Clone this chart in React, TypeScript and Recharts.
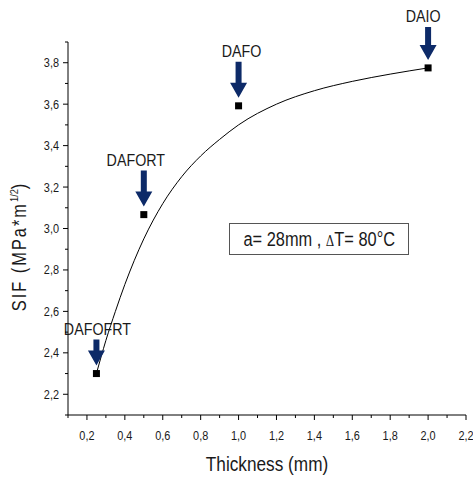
import React from 'react';
import { ComposedChart, Line, Scatter, XAxis, YAxis } from 'recharts';

// measured SIF values at each specimen thickness
const labels = ['DAFOFRT', 'DAFORT', 'DAFO', 'DAIO'];
const thickness = [0.25, 0.5, 1.0, 2.0];
const sif = [2.3, 3.067, 3.592, 3.775];

// fitted curve
const fitX = [0.25, 0.3, 0.35, 0.4, 0.5, 0.6, 0.7, 0.8, 0.9, 1.0, 1.2, 1.4, 1.6, 1.8, 2.0];
const fitY = [2.3, 2.46, 2.6, 2.73, 2.95, 3.12, 3.25, 3.35, 3.43, 3.5, 3.6, 3.665, 3.71, 3.745, 3.775];

const xTicks = [0.1, 0.2, 0.3, 0.4, 0.5, 0.6, 0.7, 0.8, 0.9, 1.0, 1.1, 1.2, 1.3, 1.4, 1.5, 1.6, 1.7, 1.8, 1.9, 2.0, 2.1, 2.2];
const yTicks = [2.1, 2.2, 2.3, 2.4, 2.5, 2.6, 2.7, 2.8, 2.9, 3.0, 3.1, 3.2, 3.3, 3.4, 3.5, 3.6, 3.7, 3.8, 3.9];

const points = thickness.map((x, i) => ({ x, y: sif[i], name: labels[i] }));
const fit = fitX.map((x, i) => ({ x, y: fitY[i] }));

const FONT = "'Liberation Sans', Arial, sans-serif";
const NAVY = '#0d2a68';
const SQUEEZE = 0.84; // the original uses a narrow face

const isMajor = (v: number) => Math.round(v * 10) % 2 === 0;
const fmt = (v: number) => v.toFixed(1).replace('.', ',');

// text drawn with a horizontal squeeze to mimic the condensed font
const NText = ({ x, y, size, anchor = 'middle', children }: any) => (
  <text
    transform={`translate(${x},${y}) scale(${SQUEEZE},1)`}
    textAnchor={anchor}
    fontSize={size}
    fontFamily={FONT}
    fill="#1a1a1a"
  >
    {children}
  </text>
);

const XTick = (props: any) => {
  const { x, y, payload } = props;
  const major = isMajor(payload.value);
  return (
    <g>
      <line x1={x} x2={x} y1={y} y2={y + (major ? 5 : 3)} stroke="#000" strokeWidth={1} />
      {major && <NText x={x} y={y + 25} size={13}>{fmt(payload.value)}</NText>}
    </g>
  );
};

const YTick = (props: any) => {
  const { x, y, payload } = props;
  const major = isMajor(payload.value);
  return (
    <g>
      <line x1={x} x2={x - (major ? 5 : 3)} y1={y} y2={y} stroke="#000" strokeWidth={1} />
      {major && (
        <NText x={x - 9} y={y + 4.5} size={13} anchor="end">
          {fmt(payload.value)}
        </NText>
      )}
    </g>
  );
};

// arrow + label offsets per marker (layout only)
const arrowLen: Record<string, number> = { DAFOFRT: 26, DAFORT: 36, DAFO: 36, DAIO: 33 };
const labelDx: Record<string, number> = { DAFOFRT: 1, DAFORT: -8, DAFO: 3, DAIO: -5 };

const Marker = (props: any) => {
  const { cx, cy, payload } = props;
  const len = arrowLen[payload.name];
  const tip = cy - 8;
  const top = tip - len;
  const headH = 15;
  return (
    <g>
      <rect x={cx - 3.5} y={cy - 3.5} width={7} height={7} fill="#000" />
      <path
        d={`M${cx - 3},${top} L${cx + 3},${top} L${cx + 3},${tip - headH} L${cx + 8.5},${tip - headH} L${cx},${tip} L${cx - 8.5},${tip - headH} L${cx - 3},${tip - headH} Z`}
        fill={NAVY}
      />
      <NText x={cx + labelDx[payload.name]} y={top - 5} size={17}>
        {payload.name}
      </NText>
    </g>
  );
};

const YTitle = (props: any) => {
  const { viewBox } = props;
  const cx = 26;
  const cy = viewBox.y + viewBox.height / 2 + 18;
  return (
    <text
      transform={`translate(${cx},${cy}) rotate(-90) scale(${SQUEEZE},1)`}
      textAnchor="middle"
      fontSize={19.5}
      fontFamily={FONT}
      letterSpacing={2.4}
      fill="#1a1a1a"
    >
      SIF (MPa*m
      <tspan dy={-8} fontSize={11} letterSpacing={0}>1/2</tspan>
      <tspan dy={8}>)</tspan>
    </text>
  );
};

const XTitle = (props: any) => {
  const { viewBox } = props;
  return (
    <NText x={viewBox.x + viewBox.width / 2} y={471} size={20.5}>
      Thickness (mm)
    </NText>
  );
};

export default function App() {
  return (
    <div style={{ position: 'absolute', left: 0, top: 0, width: 473, height: 477, background: '#fff' }}>
      <ComposedChart width={473} height={477} margin={{ top: 42, right: 7, bottom: 0, left: 0 }}>
        <XAxis
          type="number"
          dataKey="x"
          domain={[0.1, 2.2]}
          ticks={xTicks}
          interval={0}
          height={62}
          tickSize={0}
          tickMargin={0}
          tickLine={false}
          tick={<XTick />}
          axisLine={{ stroke: '#000', strokeWidth: 1 }}
          label={<XTitle />}
        />
        <YAxis
          type="number"
          dataKey="y"
          domain={[2.1, 3.9]}
          ticks={yTicks}
          interval={0}
          width={68}
          tickSize={0}
          tickMargin={0}
          tickLine={false}
          tick={<YTick />}
          axisLine={{ stroke: '#000', strokeWidth: 1 }}
          label={<YTitle />}
        />
        <Line
          data={fit}
          dataKey="y"
          type="monotone"
          stroke="#000"
          strokeWidth={1}
          dot={false}
          activeDot={false}
          isAnimationActive={false}
        />
        <Scatter data={points} dataKey="y" shape={<Marker />} isAnimationActive={false} />
      </ComposedChart>
      <div
        style={{
          position: 'absolute',
          left: 229,
          top: 223,
          width: 180,
          height: 32,
          boxSizing: 'border-box',
          border: '1.5px solid #555',
          display: 'flex',
          alignItems: 'center',
          justifyContent: 'center',
          fontFamily: FONT,
          fontSize: 19.5,
          color: '#1a1a1a',
        }}
      >
        <span style={{ display: 'inline-block', transform: `scaleX(${SQUEEZE})`, whiteSpace: 'nowrap' }}>
          a= 28mm ,{' '}
          <span style={{ fontFamily: "'DejaVu Serif', serif", fontSize: 14 }}>Δ</span>T= 80°C
        </span>
      </div>
    </div>
  );
}
